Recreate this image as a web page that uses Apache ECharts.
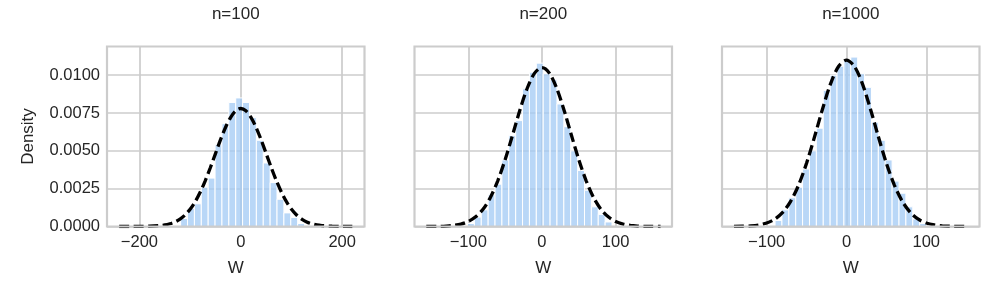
<!DOCTYPE html>
<html><head><meta charset="utf-8">
<script src="https://cdn.jsdelivr.net/npm/echarts@6/dist/echarts.min.js"></script>
<style>html,body{margin:0;padding:0;background:#fff}#c{width:998px;height:297px}</style>
</head><body><div id="c"></div>
<script>
// ---- data ----
const panelTitles = ['n=100', 'n=200', 'n=1000'];
const xAxisLabel = 'W';
const yAxisLabel = 'Density';
const yTicks = [0, 0.0025, 0.005, 0.0075, 0.01];
const xTicks1 = [-200, 0, 200];
const xTicks2 = [-100, 0, 100];
const xTicks3 = [-100, 0, 100];

// histogram: left edge of first bin, bin width, densities
const hist1Start = -118.7, hist1Width = 13.58;
const hist1Density = [0.00053, 0.0012, 0.0015, 0.0026, 0.0032, 0.0054, 0.0068, 0.0082, 0.0085, 0.0082, 0.0072, 0.0057, 0.0042, 0.0029, 0.0018, 0.0009, 0.0006, 0.0002];
const hist2Start = -101.06, hist2Width = 9.34;
const hist2Density = [0.0002, 0.00062, 0.0011, 0.0021, 0.0028, 0.0044, 0.0060, 0.0070, 0.0091, 0.0102, 0.0108, 0.0101, 0.0097, 0.0081, 0.0066, 0.0050, 0.0037, 0.0024, 0.0013, 0.0008, 0.0003];
const hist3Start = -89.52, hist3Width = 8.63;
const hist3Density = [0.0004, 0.0011, 0.0019, 0.0026, 0.0038, 0.0050, 0.0065, 0.0090, 0.0100, 0.0106, 0.0110, 0.0112, 0.0101, 0.0092, 0.0069, 0.0057, 0.0044, 0.0030, 0.0022, 0.0013, 0.0005, 0.0002];

// dashed reference curves
const curve1X = [-240, -220, -200, -180, -160, -150, -140, -130, -120, -110, -100, -90, -80, -70, -60, -50, -40, -30, -20, -10, 0, 10, 20, 30, 40, 50, 60, 70, 80, 90, 100, 110, 120, 130, 140, 150, 160, 180, 200, 220];
const curve1Y = [0, 0.000001, 0.000004, 0.00002, 0.00006, 0.00010, 0.00018, 0.00030, 0.00049, 0.00076, 0.00114, 0.00164, 0.00228, 0.00304, 0.00390, 0.00482, 0.00574, 0.00656, 0.00722, 0.00765, 0.0078, 0.00765, 0.00722, 0.00656, 0.00574, 0.00482, 0.00390, 0.00304, 0.00228, 0.00164, 0.00114, 0.00076, 0.00049, 0.00030, 0.00018, 0.00010, 0.00006, 0.00002, 0.000004, 0.000001];
const curve2X = [-157, -150, -140, -130, -120, -110, -100, -90, -80, -70, -60, -50, -40, -30, -20, -10, 0, 10, 20, 30, 40, 50, 60, 70, 80, 90, 100, 110, 120, 130, 140, 150, 161];
const curve2Y = [0.000002, 0.000004, 0.00001, 0.00003, 0.00007, 0.00016, 0.00033, 0.00064, 0.00114, 0.00192, 0.00302, 0.00442, 0.00603, 0.00769, 0.00914, 0.01014, 0.0105, 0.01014, 0.00914, 0.00769, 0.00603, 0.00442, 0.00302, 0.00192, 0.00114, 0.00064, 0.00033, 0.00016, 0.00007, 0.00003, 0.00001, 0.000004, 0.000001];
const curve3X = [-141, -130, -120, -110, -100, -90, -80, -70, -60, -50, -40, -30, -20, -10, 0, 10, 20, 30, 40, 50, 60, 70, 80, 90, 100, 110, 120, 130, 140, 152];
const curve3Y = [0.000004, 0.000016, 0.00004, 0.00010, 0.00023, 0.00048, 0.00093, 0.00166, 0.00274, 0.00419, 0.00593, 0.00777, 0.00943, 0.01058, 0.0110, 0.01058, 0.00943, 0.00777, 0.00593, 0.00419, 0.00274, 0.00166, 0.00093, 0.00048, 0.00023, 0.00010, 0.00004, 0.000016, 0.000006, 0.000002];

// ---- chart ----
const FONT = "'Liberation Sans', Arial, sans-serif";
const TXT = '#262626';
const GRIDC = '#cccccc';
const panels = [
  {left: 107, xmin: -264, xmax: 244, ticks: xTicks1, start: hist1Start, w: hist1Width, dens: hist1Density, cx: curve1X, cy: curve1Y},
  {left: 414.5, xmin: -173, xmax: 176.5, ticks: xTicks2, start: hist2Start, w: hist2Width, dens: hist2Density, cx: curve2X, cy: curve2Y},
  {left: 722, xmin: -156, xmax: 166.7, ticks: xTicks3, start: hist3Start, w: hist3Width, dens: hist3Density, cx: curve3X, cy: curve3Y}
];
const W = 257.5, TOP = 46.5, H = 180;
const fmtX = v => (v < 0 ? '\u2212' + Math.abs(v) : String(v));

const grid = [], xAxis = [], yAxis = [], series = [], graphic = [];
panels.forEach((p, i) => {
  grid.push({left: p.left, top: TOP, width: W, height: H, show: true, z: 10, borderColor: GRIDC, borderWidth: 2.2, backgroundColor: 'transparent'});
  xAxis.push({
    type: 'value', gridIndex: i, min: p.xmin, max: p.xmax,
    name: xAxisLabel, nameLocation: 'middle', nameGap: 33,
    nameTextStyle: {fontFamily: FONT, fontSize: 17, color: TXT},
    axisLine: {show: false},
    axisTick: {show: false, customValues: p.ticks},
    axisLabel: {customValues: p.ticks, formatter: fmtX, fontFamily: FONT, fontSize: 16.5, color: TXT, margin: 7},
    splitLine: {show: true, lineStyle: {color: GRIDC, width: 1.7}}
  });
  yAxis.push({
    type: 'value', gridIndex: i, min: 0, max: 0.0119,
    name: i === 0 ? yAxisLabel : '', nameLocation: 'middle', nameGap: 70, nameRotate: 90,
    nameTextStyle: {fontFamily: FONT, fontSize: 17, color: TXT},
    axisLine: {show: false},
    axisTick: {show: false, customValues: yTicks},
    axisLabel: {show: i === 0, customValues: yTicks, formatter: v => v.toFixed(4), fontFamily: FONT, fontSize: 16.5, color: TXT, margin: 7},
    splitLine: {show: true, lineStyle: {color: GRIDC, width: 1.7}}
  });
  series.push({
    type: 'custom', xAxisIndex: i, yAxisIndex: i, clip: true,
    data: p.dens.map((d, k) => [p.start + k * p.w, p.start + (k + 1) * p.w, d]),
    encode: {x: [0, 1], y: 2},
    renderItem: function (params, api) {
      const a = api.coord([api.value(0), api.value(2)]);
      const b = api.coord([api.value(1), 0]);
      return {type: 'rect', shape: {x: a[0], y: a[1], width: b[0] - a[0], height: b[1] - a[1]},
        style: {fill: 'rgba(161,201,244,0.75)', stroke: '#ffffff', lineWidth: 1}};
    }
  });
  series.push({
    type: 'line', xAxisIndex: i, yAxisIndex: i, showSymbol: false, smooth: 0.3, silent: true, clip: true,
    data: p.cx.map((x, k) => [x, p.cy[k]]),
    lineStyle: {color: '#000', width: 3.3, type: [10, 4.5]}, z: 5
  });
  graphic.push({type: 'text', x: p.left + W / 2, y: 14,
    style: {text: panelTitles[i], fill: TXT, font: '17px ' + FONT, textAlign: 'center', textVerticalAlign: 'middle'}});
});

const chart = echarts.init(document.getElementById('c'), null, {renderer: 'canvas'});
chart.setOption({animation: false, backgroundColor: '#ffffff', grid, xAxis, yAxis, series, graphic});
</script></body></html>
